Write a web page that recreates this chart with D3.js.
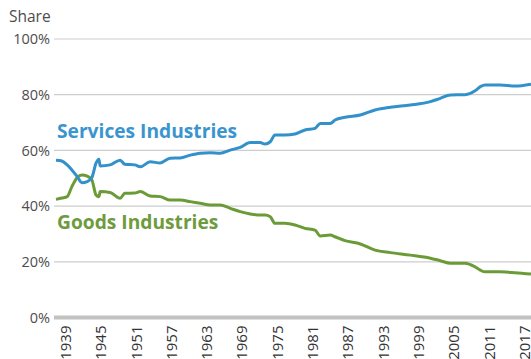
<!DOCTYPE html>
<html>
<head>
<meta charset="utf-8">
<script src="https://cdn.jsdelivr.net/npm/d3@7"></script>
<style>
  html, body { margin: 0; padding: 0; background: #fff; }
  svg { display: block; }
</style>
</head>
<body>
<svg id="chart" width="531" height="359"></svg>
<script>
// Share of employment by industry group, 1939 onward
const years = [
  1939.0, 1940.0, 1940.9, 1941.7, 1942.6, 1943.4, 1944.3, 1945.1, 1945.8, 1946.3,
  1946.5, 1948.2, 1949.9, 1950.7, 1952.4, 1953.3, 1955.0, 1956.7, 1958.4, 1960.1,
  1961.8, 1963.5, 1965.2, 1966.9, 1968.6, 1970.3, 1972.0, 1973.7, 1974.5, 1975.4,
  1976.2, 1977.9, 1979.6, 1981.3, 1983.0, 1983.9, 1985.6, 1986.4, 1988.1, 1990.7,
  1993.2, 1995.8, 1999.2, 2002.6, 2004.3, 2006.0, 2008.5, 2010.2, 2011.1, 2011.9,
  2014.5, 2017.0, 2019.7
];
const services = [
  56.5, 56.2, 54.8, 53.0, 50.6, 48.4, 48.8, 50.3, 55.4, 56.8,
  54.4, 54.8, 56.5, 55.0, 54.8, 54.1, 55.9, 55.5, 57.2, 57.3,
  58.3, 59.0, 59.2, 59.0, 60.1, 61.1, 62.8, 62.8, 62.3, 63.1,
  65.5, 65.5, 65.9, 67.3, 67.9, 69.7, 69.7, 70.9, 71.9, 72.7,
  74.5, 75.5, 76.3, 77.5, 78.7, 79.9, 80.0, 81.4, 82.9, 83.5,
  83.5, 83.1, 83.8
];
const goods = [
  42.4, 42.9, 43.4, 47.0, 50.3, 51.2, 50.8, 49.4, 44.0, 43.4,
  45.2, 44.9, 42.8, 44.6, 44.7, 45.2, 43.6, 43.4, 42.2, 42.2,
  41.6, 41.0, 40.4, 40.4, 39.2, 38.0, 37.2, 36.8, 36.8, 36.2,
  33.8, 33.8, 33.2, 32.0, 31.4, 29.3, 29.6, 29.0, 27.6, 26.4,
  24.2, 23.3, 22.4, 21.3, 20.4, 19.5, 19.5, 18.2, 17.0, 16.4,
  16.4, 16.1, 15.6
];
const shareTicks = [0, 20, 40, 60, 80, 100];
const yearLabels = [1939, 1945, 1951, 1957, 1963, 1969, 1975, 1981, 1987, 1993, 1999, 2005, 2011, 2017];
const seriesNames = ["Services Industries", "Goods Industries"];

const W = 531, H = 359;
const left = 54, plotStart = 56;
const svg = d3.select("#chart");
const font = "'Open Sans', 'Noto Sans', sans-serif";

const x = d3.scaleLinear().domain([years[0], years[years.length - 1]]).range([plotStart, W]);
const y = d3.scaleLinear().domain([0, 100]).range([317.5, 39]);

// horizontal gridlines
svg.append("g").selectAll("line")
  .data(shareTicks.filter(d => d > 0))
  .join("line")
  .attr("x1", left).attr("x2", W)
  .attr("y1", d => y(d)).attr("y2", d => y(d))
  .attr("stroke", "#cdcdcd").attr("stroke-width", 1.2);

// baseline at 0%
svg.append("line")
  .attr("x1", left).attr("x2", W)
  .attr("y1", y(0)).attr("y2", y(0))
  .attr("stroke", "#c2c2c2").attr("stroke-width", 4);

// y-axis labels
const yAxis = d3.axisLeft(y).tickValues(shareTicks).tickSize(0).tickPadding(0)
  .tickFormat(d => d + "%");
const gy = svg.append("g").attr("transform", `translate(${left - 4},0)`).call(yAxis);
gy.select(".domain").remove();
gy.selectAll("text")
  .attr("font-family", font).attr("font-size", 14.5).attr("fill", "#4d4d4d");

svg.append("text")
  .attr("x", 9).attr("y", 22)
  .attr("font-family", font).attr("font-size", 15.5).attr("fill", "#4d4d4d")
  .text("Share");

// x-axis year labels, rotated
const xAxis = d3.axisBottom(x).tickValues(yearLabels).tickSize(0).tickPadding(0)
  .tickFormat(d3.format("d"));
const gx = svg.append("g").attr("transform", `translate(0,${y(0) + 8})`).call(xAxis);
gx.select(".domain").remove();
gx.selectAll("text")
  .attr("font-family", font).attr("font-size", 15).attr("fill", "#333")
  .attr("text-anchor", "end")
  .attr("transform", "translate(9,0) rotate(-90)")
  .attr("x", 0).attr("y", 0).attr("dy", "0.36em");

// series lines
const line = vals => d3.line()
  .x((d, i) => x(years[i]))
  .y(d => y(d))
  .curve(d3.curveMonotoneX)(vals);

svg.append("path").attr("d", line(goods))
  .attr("fill", "none").attr("stroke", "#6b9b37").attr("stroke-width", 3)
  .attr("stroke-linejoin", "round");
svg.append("path").attr("d", line(services))
  .attr("fill", "none").attr("stroke", "#3290cb").attr("stroke-width", 3)
  .attr("stroke-linejoin", "round");

// series labels
svg.append("text")
  .attr("x", 57).attr("y", 137.5)
  .attr("font-family", font).attr("font-size", 19.2).attr("font-weight", "bold")
  .attr("fill", "#3a95cf")
  .text(seriesNames[0]);
svg.append("text")
  .attr("x", 57).attr("y", 229)
  .attr("font-family", font).attr("font-size", 19.2).attr("font-weight", "bold")
  .attr("fill", "#6e9b3d")
  .text(seriesNames[1]);
</script>
</body>
</html>
